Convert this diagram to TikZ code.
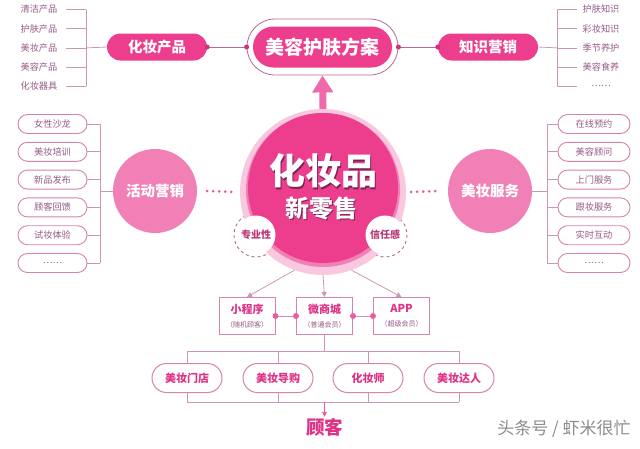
\documentclass[tikz,border=0pt]{standalone}
\usepackage{fontspec}
\setmainfont{Noto Sans CJK SC}
\usetikzlibrary{positioning,arrows.meta,shapes.misc}

\definecolor{BeautyHotPink}{RGB}{236,62,140}
\definecolor{BeautyMidPink}{RGB}{240,128,182}
\definecolor{BeautyPalePink}{RGB}{249,200,222}
\definecolor{BeautyMauve}{RGB}{185,105,150}
\definecolor{BeautyBorder}{RGB}{215,130,175}
\definecolor{BeautyLine}{RGB}{205,150,185}
\definecolor{BeautyText}{RGB}{150,90,135}
\definecolor{BeautyRoseText}{RGB}{222,50,135}
\definecolor{BeautyTag}{RGB}{185,55,120}
\definecolor{BeautyArrow}{RGB}{240,105,170}
\definecolor{BeautyDot}{RGB}{232,95,160}
\definecolor{BeautyShadow}{RGB}{120,35,85}
\definecolor{BeautyGrey}{RGB}{140,140,140}

\newcommand{\fsz}[1]{\fontsize{#1}{#1}\selectfont}

\tikzset{
    listtext/.style={font=\fsz{9.2}, text=BeautyText, inner sep=0, minimum width=37, minimum height=10},
    hotpill/.style={rounded rectangle, fill=BeautyHotPink, text=white, font=\bfseries\fsz{14.5}, minimum width=100, minimum height=27, inner sep=0},
    softdisc/.style={circle, fill=BeautyMidPink, text=white, font=\bfseries\fsz{14.5}, minimum size=84, inner sep=0},
    itempill/.style={rounded rectangle, draw=BeautyBorder, line width=0.9, fill=white, font=\fsz{9.2}, text=BeautyText, minimum height=19, inner sep=0},
    channelbox/.style={rectangle, draw=BeautyBorder, line width=1, fill=white, minimum width=56, minimum height=37, inner sep=0, align=center},
    shoppill/.style={rounded rectangle, draw=BeautyBorder, line width=1, fill=white, font=\bfseries\fsz{11}, text=BeautyRoseText, minimum width=70, minimum height=29, inner sep=0},
    tagdisc/.style={circle, fill=white, minimum size=39, inner sep=0, font=\bfseries\fsz{10}, text=BeautyTag},
    branch/.style={draw=BeautyLine, line width=0.8},
    feed/.style={branch, -{Triangle[width=5,length=5]}},
    dotrow/.style={draw=BeautyDot, line width=3, line cap=round, dash pattern=on 0pt off 6pt},
}

\begin{document}
\begin{tikzpicture}[x=1pt,y=-1pt]
                \useasboundingbox (0,0) rectangle (640,448);

                % top row
                \node[rounded rectangle, draw=BeautyMauve, line width=0.8, fill=white, minimum width=151, minimum height=56, inner sep=0] (planFrame) at (322.5,47) {};
                \node[rounded rectangle, fill=BeautyHotPink, text=white, font=\bfseries\fsz{19}, minimum width=139, minimum height=41, inner sep=0] (plan) at (322.5,47) {美容护肤方案};
                \node[hotpill] (prodPill) at (157,47) {化妆产品};
                \node[hotpill] (knowPill) at (488,47) {知识营销};
                \draw[branch, draw=BeautyMauve] (prodPill.east) -- (planFrame.west);
                \draw[branch, draw=BeautyMauve] (planFrame.east) -- (knowPill.west);
                \foreach \spot in {prodPill.east,planFrame.west,planFrame.east,knowPill.west}
                    \fill[BeautyHotPink!85!black] (\spot) circle (2.5);

                \foreach \txt [count=\i] in {清洁产品,护肤产品,美妆产品,美容产品,化妆器具}
                    \node[listtext] (prodItem\i) at (39,{9.5+19.2*(\i-1)}) {\txt};
                \coordinate (prodBar) at (86,47.9);
                \foreach \i in {1,...,5}
                    \draw[branch] ([xshift=8.5]prodItem\i.east) -- (prodItem\i.east -| prodBar);
                \draw[branch] (prodItem1.east -| prodBar) -- (prodItem5.east -| prodBar);
                \draw[branch] (prodBar) -- (prodPill.west);

                \foreach \txt [count=\i] in {护肤知识,彩妆知识,季节养护,美容食养,……}
                    \node[listtext] (knowItem\i) at (601,{9.5+19.2*(\i-1)}) {\txt};
                \coordinate (knowBar) at (557,47.9);
                \foreach \i in {1,...,5}
                    \draw[branch] ([xshift=-5.5]knowItem\i.west) -- (knowItem\i.west -| knowBar);
                \draw[branch] (knowItem1.west -| knowBar) -- (knowItem5.west -| knowBar);
                \draw[branch] (knowBar) -- (knowPill.east);

                % hub
                \draw[BeautyMauve, line width=0.9, dashed] (256,235) circle (22);
                \draw[BeautyMauve, line width=0.9, dashed] (385,235) circle (22);
                \node[circle, fill=BeautyPalePink, minimum size=166, inner sep=0] (hubRing) at (323,192) {};
                \node[circle, fill=BeautyMidPink, minimum size=154, inner sep=0] (hubBand) at (323,190) {};
                \node[circle, fill=BeautyHotPink, minimum size=150, inner sep=0] (hub) at (323,188) {};
                \draw[BeautyArrow, line width=7, -{Triangle[width=20,length=17]}] (hubRing.north) -- (planFrame.south);
                \node[font=\bfseries\fsz{36}, text=BeautyShadow] (hubTitleShade) at (324.5,172.5) {化妆品};
                \node[font=\bfseries\fsz{36}, text=white] (hubTitle) at (323,171) {化妆品};
                \node[font=\bfseries\fsz{24}, text=BeautyShadow] (hubSubShade) at (322.5,209.5) {新零售};
                \node[font=\bfseries\fsz{24}, text=white] (hubSub) at (321,208) {新零售};
                \node[tagdisc] (proTag) at (256,235) {专业性};
                \node[tagdisc] (trustTag) at (385,235) {信任感};

                % middle row
                \node[softdisc] (actDisc) at (155,191) {活动营销};
                \node[softdisc] (servDisc) at (490,191) {美妆服务};
                \draw[dotrow] ([xshift=10]actDisc.east) -- ([xshift=-5]hubRing.west);
                \draw[dotrow] ([xshift=5]hubRing.east) -- ([xshift=-10]servDisc.west);

                \foreach \txt [count=\i] in {女性沙龙,美妆培训,新品发布,顾客回馈,试妆体验,……}
                    \node[itempill, minimum width=69] (actItem\i) at (52.5,{124+27.8*(\i-1)}) {\txt};
                \coordinate (actBar) at (100,191);
                \foreach \i in {1,...,6}
                    \draw[branch] (actItem\i.east) -- (actItem\i.east -| actBar);
                \draw[branch] (actItem1.east -| actBar) -- (actItem6.east -| actBar);
                \draw[branch] (actBar) -- (actDisc.west);

                \foreach \txt [count=\i] in {在线预约,美容顾问,上门服务,跟妆服务,实时互动,……}
                    \node[itempill, minimum width=72] (servItem\i) at (594,{124+27.8*(\i-1)}) {\txt};
                \coordinate (servBar) at (547,191);
                \foreach \i in {1,...,6}
                    \draw[branch] (servItem\i.west) -- (servItem\i.west -| servBar);
                \draw[branch] (servItem1.west -| servBar) -- (servItem6.west -| servBar);
                \draw[branch] (servBar) -- (servDisc.east);

                % channels
                \node[channelbox] (miniApp) at (247,316) {{\bfseries\fsz{11}\color{BeautyRoseText}小程序}\\[2pt]{\fsz{7}\color{BeautyText}（随机顾客）}};
                \node[channelbox] (microMall) at (324.5,316) {{\bfseries\fsz{11}\color{BeautyRoseText}微商城}\\[2pt]{\fsz{7}\color{BeautyText}（普通会员）}};
                \node[channelbox] (appBox) at (401.5,316) {{\bfseries\fsz{11}\color{BeautyRoseText}APP}\\[2pt]{\fsz{7}\color{BeautyText}（超级会员）}};
                \draw[feed] (hubRing.250) -- (miniApp.north);
                \draw[feed] (hubRing.south) -- (microMall.north);
                \draw[feed] (hubRing.290) -- (appBox.north);
                \draw[branch, line width=1] (miniApp.east) -- (microMall.west);
                \draw[branch, line width=1] (microMall.east) -- (appBox.west);
                \foreach \spot in {miniApp.east,microMall.west,microMall.east,appBox.west}
                    \fill[BeautyDot] (\spot) circle (3);

                % shops
                \coordinate (splitTop) at (324.5,351);
                \coordinate (joinBot) at (324.5,402);
                \foreach \x [count=\i] in {187,278,368,459}
                    \coordinate (shopSpot\i) at (\x,378);
                \draw[branch] (microMall.south) -- (splitTop);
                \draw[branch] (shopSpot1 |- splitTop) -- (shopSpot4 |- splitTop);
                \draw[branch] (shopSpot1 |- joinBot) -- (shopSpot4 |- joinBot);
                \foreach \i in {1,...,4}
                    \draw[branch] (shopSpot\i |- splitTop) -- (shopSpot\i |- joinBot);
                \foreach \txt [count=\i] in {美妆门店,美妆导购,化妆师,美妆达人}
                    \node[shoppill] (shop\i) at (shopSpot\i) {\txt};
                \node[font=\bfseries\fsz{18.5}, text=BeautyRoseText, inner sep=1] (client) at (324.5,427) {顾客};
                \draw[feed, draw=BeautyDot, -{Triangle[width=5,length=5]}] (joinBot) -- (client.north);

                \node[font=\fsz{17}, text=BeautyGrey] (mark) at (564,429) {头条号 / 虾米很忙};
            \end{tikzpicture}
\end{document}
